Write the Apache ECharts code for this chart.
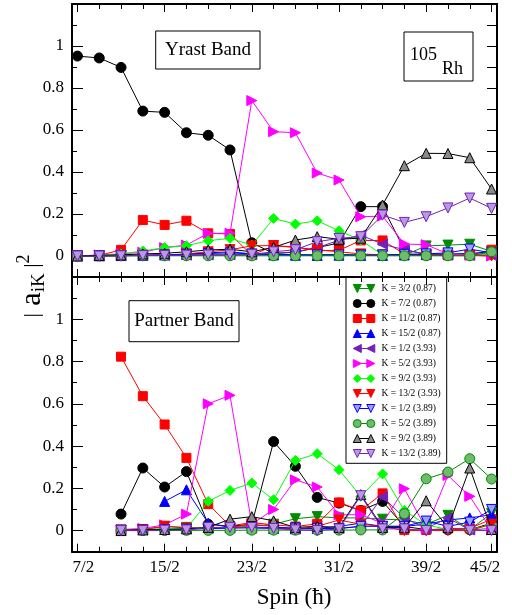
<!DOCTYPE html>
<html>
<head>
<meta charset="utf-8">
<script src="https://cdn.jsdelivr.net/npm/echarts@6/dist/echarts.min.js"></script>
<style>
  html, body { margin: 0; padding: 0; background: #fff; }
  #chart { width: 512px; height: 615px; }
</style>
</head>
<body>
<div id="chart"></div>
<script>
// Spin values (in units of hbar) for the two bands
const yrastSpins   = [3.5, 4.5, 5.5, 6.5, 7.5, 8.5, 9.5, 10.5, 11.5, 12.5, 13.5, 14.5, 15.5, 16.5, 17.5, 18.5, 19.5, 20.5, 21.5, 22.5];
const partnerSpins = [5.5, 6.5, 7.5, 8.5, 9.5, 10.5, 11.5, 12.5, 13.5, 14.5, 15.5, 16.5, 17.5, 18.5, 19.5, 20.5, 21.5, 22.5];

// Tick labels
const xLabelValues = [3.5, 7.5, 11.5, 15.5, 19.5, 22.5];
const xLabelTexts  = ['7/2', '15/2', '23/2', '31/2', '39/2', '45/2'];
const yLabelValues = [0, 0.2, 0.4, 0.6, 0.8, 1];
const yLabelTexts  = ['0', '0.2', '0.4', '0.6', '0.8', '1'];

// Legend entries (K, configuration energy in MeV)
const kLabels = [
  'K = 3/2 (0.87)', 'K = 7/2 (0.87)', 'K = 11/2 (0.87)', 'K = 15/2 (0.87)',
  'K = 1/2 (3.93)', 'K = 5/2 (3.93)', 'K = 9/2 (3.93)', 'K = 13/2 (3.93)',
  'K = 1/2 (3.89)', 'K = 5/2 (3.89)', 'K = 9/2 (3.89)', 'K = 13/2 (3.89)'
];

// |a_iK|^2 amplitudes, yrast band
const yrastK3_087  = [0.002, 0.002, 0.003, 0.003, 0.004, 0.005, 0.005, 0.004, 0.004, 0.005, 0.005, 0.006, 0.008, 0.005, 0.004, 0.003, 0.048, 0.052, 0.056, 0.022];
const yrastK7_087  = [0.952, 0.943, 0.898, 0.690, 0.684, 0.587, 0.575, 0.505, 0.063, 0.012, 0.018, 0.040, 0.062, 0.235, 0.235, 0.030, 0.008, 0.006, 0.006, 0.010];
const yrastK11_087 = [0.002, 0.003, 0.029, 0.171, 0.148, 0.168, 0.108, 0.105, 0.004, 0.048, 0.044, 0.025, 0.027, 0.074, 0.074, 0.010, 0.004, 0.003, 0.003, 0.030];
const yrastK15_087 = [0.001, 0.001, 0.002, 0.003, 0.005, 0.008, 0.015, 0.020, 0.010, 0.005, 0.004, 0.003, 0.004, 0.003, 0.003, 0.005, 0.008, 0.010, 0.012, 0.020];
const yrastK1_393  = [0.000, 0.000, 0.001, 0.002, 0.003, 0.004, 0.005, 0.006, 0.008, 0.012, 0.020, 0.040, 0.075, 0.100, 0.056, 0.030, 0.008, 0.004, 0.003, 0.003];
const yrastK5_393  = [0.000, 0.005, 0.010, 0.018, 0.040, 0.052, 0.108, 0.108, 0.740, 0.592, 0.587, 0.395, 0.362, 0.187, 0.190, 0.057, 0.054, 0.010, 0.004, 0.000];
const yrastK9_393  = [0.000, 0.003, 0.010, 0.024, 0.040, 0.049, 0.073, 0.084, 0.052, 0.179, 0.152, 0.168, 0.120, 0.076, 0.005, 0.003, 0.002, 0.002, 0.002, 0.010];
const yrastK13_393 = [0.000, 0.001, 0.002, 0.003, 0.005, 0.010, 0.020, 0.030, 0.048, 0.050, 0.040, 0.030, 0.020, 0.010, 0.005, 0.005, 0.003, 0.002, 0.002, 0.000];
const yrastK1_389  = [0.000, 0.001, 0.002, 0.003, 0.005, 0.008, 0.012, 0.015, 0.010, 0.008, 0.006, 0.005, 0.005, 0.004, 0.005, 0.008, 0.010, 0.015, 0.033, 0.015];
const yrastK5_389  = [0.000, 0.000, 0.001, 0.001, 0.001, 0.001, 0.001, 0.001, 0.001, 0.001, 0.001, 0.001, 0.001, 0.001, 0.001, 0.001, 0.001, 0.001, 0.001, 0.020];
const yrastK9_389  = [0.000, 0.003, 0.005, 0.010, 0.013, 0.020, 0.029, 0.032, 0.020, 0.041, 0.076, 0.092, 0.080, 0.085, 0.243, 0.430, 0.489, 0.488, 0.468, 0.319];
const yrastK13_389 = [0.000, 0.000, 0.001, 0.002, 0.003, 0.004, 0.005, 0.006, 0.008, 0.020, 0.030, 0.068, 0.084, 0.092, 0.195, 0.160, 0.187, 0.229, 0.276, 0.227];

// |a_iK|^2 amplitudes, partner band
const partnerK3_087  = [0.003, 0.005, 0.020, 0.015, 0.010, 0.015, 0.020, 0.030, 0.056, 0.066, 0.060, 0.060, 0.054, 0.050, 0.030, 0.072, 0.004, 0.082];
const partnerK7_087  = [0.078, 0.296, 0.206, 0.279, 0.030, 0.020, 0.030, 0.421, 0.304, 0.157, 0.130, 0.095, 0.138, 0.019, 0.005, 0.004, 0.004, 0.035];
const partnerK11_087 = [0.823, 0.636, 0.502, 0.344, 0.125, 0.022, 0.038, 0.027, 0.019, 0.032, 0.133, 0.095, 0.176, 0.003, 0.003, 0.010, 0.010, 0.054];
const partnerK15_087 = [null, null, 0.138, 0.193, 0.035, 0.015, 0.012, 0.010, 0.008, 0.010, 0.020, 0.035, 0.020, 0.020, 0.030, 0.050, 0.060, 0.075];
const partnerK1_393  = [0.002, 0.003, 0.005, 0.008, 0.010, 0.012, 0.015, 0.015, 0.010, 0.008, 0.010, 0.020, 0.160, 0.060, 0.010, 0.060, 0.003, 0.010];
const partnerK5_393  = [0.005, 0.010, 0.027, 0.078, 0.600, 0.640, 0.030, 0.100, 0.240, 0.206, 0.075, 0.075, 0.035, 0.198, 0.010, 0.261, 0.162, 0.003];
const partnerK9_393  = [0.003, 0.005, 0.010, 0.010, 0.138, 0.190, 0.225, 0.146, 0.332, 0.364, 0.288, 0.162, 0.268, 0.095, 0.027, 0.005, 0.003, 0.030];
const partnerK13_393 = [0.002, 0.005, 0.020, 0.012, 0.010, 0.015, 0.030, 0.020, 0.005, 0.020, 0.050, 0.030, 0.020, 0.000, 0.000, 0.000, 0.000, 0.030];
const partnerK1_389  = [0.001, 0.002, 0.004, 0.006, 0.010, 0.012, 0.015, 0.015, 0.012, 0.010, 0.010, 0.020, 0.020, 0.020, 0.045, 0.020, 0.040, 0.100];
const partnerK5_389  = [0.000, 0.000, 0.000, 0.001, 0.001, 0.001, 0.002, 0.002, 0.002, 0.002, 0.002, 0.003, 0.003, 0.080, 0.245, 0.277, 0.340, 0.244];
const partnerK9_389  = [0.000, 0.003, 0.005, 0.008, 0.015, 0.054, 0.066, 0.046, 0.015, 0.020, 0.015, 0.170, 0.015, 0.015, 0.141, 0.015, 0.296, 0.005];
const partnerK13_389 = [0.000, 0.000, 0.002, 0.003, 0.015, 0.015, 0.015, 0.010, 0.003, 0.000, 0.008, 0.165, 0.008, 0.008, 0.000, 0.008, 0.000, 0.000];

const yrastSets   = [yrastK3_087, yrastK7_087, yrastK11_087, yrastK15_087, yrastK1_393, yrastK5_393, yrastK9_393, yrastK13_393, yrastK1_389, yrastK5_389, yrastK9_389, yrastK13_389];
const partnerSets = [partnerK3_087, partnerK7_087, partnerK11_087, partnerK15_087, partnerK1_393, partnerK5_393, partnerK9_393, partnerK13_393, partnerK1_389, partnerK5_389, partnerK9_389, partnerK13_389];

// Marker and line styling for each K configuration
const styles = [
  { kind: 'down',    line: '#008b00', fill: '#008b00', edge: '#008b00', size: 10 },
  { kind: 'circle',  line: '#000000', fill: '#000000', edge: '#000000', size: 10 },
  { kind: 'rect',    line: '#ff0000', fill: '#ff0000', edge: '#ff0000', size: 9 },
  { kind: 'up',      line: '#0000ff', fill: '#0000ff', edge: '#0000ff', size: 10 },
  { kind: 'left',    line: '#7221bc', fill: '#7221bc', edge: '#7221bc', size: 10 },
  { kind: 'right',   line: '#ff00ff', fill: '#ff00ff', edge: '#ff00ff', size: 10 },
  { kind: 'diamond', line: '#00ff00', fill: '#00ff00', edge: '#00ff00', size: 10 },
  { kind: 'down',    line: '#ff0000', fill: '#ff0000', edge: '#ff0000', size: 10 },
  { kind: 'down',    line: '#0000ff', fill: '#a0a0ff', edge: '#0000ff', size: 10 },
  { kind: 'circle',  line: '#008b00', fill: '#6cbc6c', edge: '#008b00', size: 10 },
  { kind: 'up',      line: '#000000', fill: '#8a8a8a', edge: '#000000', size: 10 },
  { kind: 'down',    line: '#7221bc', fill: '#b99ae2', edge: '#7221bc', size: 10 }
];

const SERIF = 'Liberation Serif';
const X_MIN = 3.25, X_MAX = 22.75;
const Y_MIN = -0.1, Y_MAX = 1.2;

const xMinorTicks = [];
for (let s = 3.5; s <= 22.5; s += 1) xMinorTicks.push(s);
const yMinorTicks = [0.1, 0.3, 0.5, 0.7, 0.9, 1.1];
const yAllTicks = [0, 0.1, 0.2, 0.3, 0.4, 0.5, 0.6, 0.7, 0.8, 0.9, 1.0, 1.1];

function symbolFor(kind) {
  switch (kind) {
    case 'circle':  return ['circle', 0];
    case 'rect':    return ['rect', 0];
    case 'diamond': return ['diamond', 0];
    case 'up':      return ['triangle', 0];
    case 'down':    return ['triangle', 180];
    case 'left':    return ['triangle', 90];
    case 'right':   return ['triangle', -90];
  }
}

const grids = [
  { left: 72, right: 15, top: 4, height: 273 },
  { left: 72, right: 15, top: 277, height: 274.7 }
];

const xAxes = [];
const yAxes = [];
function xAxisDef(g, position, ticks, tickLen, showLine, withLabels) {
  return {
    type: 'value', gridIndex: g, position: position, min: X_MIN, max: X_MAX,
    axisLine: { show: showLine, onZero: false, lineStyle: { color: '#000', width: 2 } },
    axisTick: { show: true, inside: true, length: tickLen, customValues: ticks, lineStyle: { color: '#000', width: 1 } },
    axisLabel: withLabels ? {
      show: true, customValues: xLabelValues, margin: 7, color: '#000',
      fontFamily: SERIF, fontSize: 17,
      formatter: function (v) {
        const i = xLabelValues.findIndex(function (t) { return Math.abs(t - v) < 1e-6; });
        const txt = i >= 0 ? xLabelTexts[i] : '';
        if (i === 0) return '{first|' + txt + '}';
        if (i === xLabelValues.length - 1) return '{last|' + txt + '}';
        return txt;
      },
      rich: {
        first: { fontFamily: SERIF, fontSize: 17, color: '#000', padding: [0, 0, 0, 12] },
        last:  { fontFamily: SERIF, fontSize: 17, color: '#000', padding: [0, 13, 0, 0] }
      }
    } : { show: false },
    splitLine: { show: false }
  };
}
function yAxisDef(g, position, ticks, tickLen, showLine, withLabels) {
  return {
    type: 'value', gridIndex: g, position: position, min: Y_MIN, max: Y_MAX,
    axisLine: { show: showLine, onZero: false, lineStyle: { color: '#000', width: 2 } },
    axisTick: { show: true, inside: true, length: tickLen, customValues: ticks, lineStyle: { color: '#000', width: 1 } },
    axisLabel: withLabels ? {
      show: true, customValues: yLabelValues, margin: 8, color: '#000',
      fontFamily: SERIF, fontSize: 17,
      formatter: function (v) {
        const i = yLabelValues.findIndex(function (t) { return Math.abs(t - v) < 1e-6; });
        return i >= 0 ? yLabelTexts[i] : '';
      }
    } : { show: false },
    splitLine: { show: false }
  };
}

for (let g = 0; g < 2; g++) {
  xAxes.push(xAxisDef(g, 'bottom', xLabelValues, 8, true, g === 1));
  xAxes.push(xAxisDef(g, 'bottom', xMinorTicks, 5, false, false));
  xAxes.push(xAxisDef(g, 'top', xLabelValues, 8, true, false));
  xAxes.push(xAxisDef(g, 'top', xMinorTicks, 5, false, false));
  yAxes.push(yAxisDef(g, 'left', yLabelValues, 11, true, true));
  yAxes.push(yAxisDef(g, 'left', yMinorTicks, 5, false, false));
  yAxes.push(yAxisDef(g, 'right', yAllTicks, 10, true, false));
}

const series = [];
[[yrastSpins, yrastSets], [partnerSpins, partnerSets]].forEach(function (band, g) {
  const spins = band[0], sets = band[1];
  sets.forEach(function (vals, i) {
    const st = styles[i];
    const sym = symbolFor(st.kind);
    series.push({
      type: 'line', name: kLabels[i],
      xAxisIndex: g * 4, yAxisIndex: g * 3,
      data: spins.map(function (s, j) { return [s, vals[j]]; }),
      connectNulls: false,
      symbol: sym[0], symbolRotate: sym[1], symbolSize: st.size,
      showSymbol: true,
      lineStyle: { color: st.line, width: 1 },
      itemStyle: { color: st.fill, borderColor: st.edge, borderWidth: 1 },
      emphasis: { disabled: true },
      z: 2 + i * 0.01,
      animation: false
    });
  });
});

// Legend drawn as graphic elements: a line with a marker at each end
function markerShape(kind, cx, cy, s, fill, edge) {
  const h = s / 2;
  const style = { fill: fill, stroke: edge, lineWidth: 1 };
  let pts;
  switch (kind) {
    case 'circle': return { type: 'circle', shape: { cx: cx, cy: cy, r: h }, style: style };
    case 'rect':   return { type: 'rect', shape: { x: cx - h, y: cy - h, width: s, height: s }, style: style };
    case 'diamond': pts = [[cx, cy - h], [cx + h, cy], [cx, cy + h], [cx - h, cy]]; break;
    case 'up':     pts = [[cx, cy - h], [cx + h, cy + h], [cx - h, cy + h]]; break;
    case 'down':   pts = [[cx - h, cy - h], [cx + h, cy - h], [cx, cy + h]]; break;
    case 'left':   pts = [[cx - h, cy], [cx + h, cy - h], [cx + h, cy + h]]; break;
    case 'right':  pts = [[cx + h, cy], [cx - h, cy - h], [cx - h, cy + h]]; break;
  }
  return { type: 'polygon', shape: { points: pts }, style: style };
}

const legendChildren = [
  { type: 'rect', shape: { x: 346, y: 277, width: 100.7, height: 186.3 }, style: { fill: '#fff', stroke: '#000', lineWidth: 1 } }
];
kLabels.forEach(function (lab, i) {
  const st = styles[i];
  const y = 288.5 + 15 * i;
  legendChildren.push({ type: 'line', shape: { x1: 357.3, y1: y, x2: 370.8, y2: y }, style: { stroke: st.line, lineWidth: 1 } });
  legendChildren.push(markerShape(st.kind, 357.3, y, 8, st.fill, st.edge));
  legendChildren.push(markerShape(st.kind, 370.8, y, 8, st.fill, st.edge));
  legendChildren.push({
    type: 'text', x: 381.5, y: y,
    style: { text: lab, fill: '#000', font: '9.5px "Liberation Serif"', textAlign: 'left', textVerticalAlign: 'middle' }
  });
});

const graphic = [
  // Yrast band label
  { type: 'rect', shape: { x: 155.7, y: 31, width: 104.3, height: 38 }, style: { fill: '#fff', stroke: '#000', lineWidth: 1 }, z: 10 },
  { type: 'text', x: 208, y: 50, z: 11, style: { text: 'Yrast Band', fill: '#000', font: '19px "Liberation Serif"', textAlign: 'center', textVerticalAlign: 'middle' } },
  // Nucleus label
  { type: 'rect', shape: { x: 404, y: 32, width: 69, height: 49 }, style: { fill: '#fff', stroke: '#000', lineWidth: 1 }, z: 10 },
  { type: 'text', x: 410, y: 55, z: 11, style: { text: '105', fill: '#000', font: '18px "Liberation Serif"', textAlign: 'left', textVerticalAlign: 'middle' } },
  { type: 'text', x: 442, y: 69, z: 11, style: { text: 'Rh', fill: '#000', font: '18px "Liberation Serif"', textAlign: 'left', textVerticalAlign: 'middle' } },
  // Partner band label
  { type: 'rect', shape: { x: 129, y: 300.7, width: 110, height: 41 }, style: { fill: '#fff', stroke: '#000', lineWidth: 1 }, z: 10 },
  { type: 'text', x: 184, y: 321.5, z: 11, style: { text: 'Partner Band', fill: '#000', font: '19px "Liberation Serif"', textAlign: 'center', textVerticalAlign: 'middle' } },
  // Legend
  { type: 'group', z: 12, children: legendChildren },
  // Axis titles
  { type: 'text', x: 294, y: 598, z: 11, style: { text: 'Spin (\u0127)', fill: '#000', font: '23px "Liberation Serif"', textAlign: 'center', textVerticalAlign: 'middle' } },
  {
    type: 'text', x: 32, y: 286, rotation: Math.PI / 2, z: 11,
    style: {
      text: '{b||}{a| a}{s|iK}{b| |}{p|2}',
      fill: '#000', textAlign: 'center', textVerticalAlign: 'middle',
      rich: {
        b: { fontFamily: SERIF, fontSize: 22, lineHeight: 34, fill: '#000' },
        a: { fontFamily: SERIF, fontSize: 30, lineHeight: 34, fill: '#000' },
        s: { fontFamily: SERIF, fontSize: 19, lineHeight: 19, verticalAlign: 'bottom', fill: '#000' },
        p: { fontFamily: SERIF, fontSize: 18, lineHeight: 18, verticalAlign: 'top', fill: '#000' }
      }
    }
  }
];

const chart = echarts.init(document.getElementById('chart'), null, { renderer: 'canvas' });
chart.setOption({
  animation: false,
  backgroundColor: '#fff',
  grid: grids,
  xAxis: xAxes,
  yAxis: yAxes,
  series: series,
  graphic: graphic
});
</script>
</body>
</html>
